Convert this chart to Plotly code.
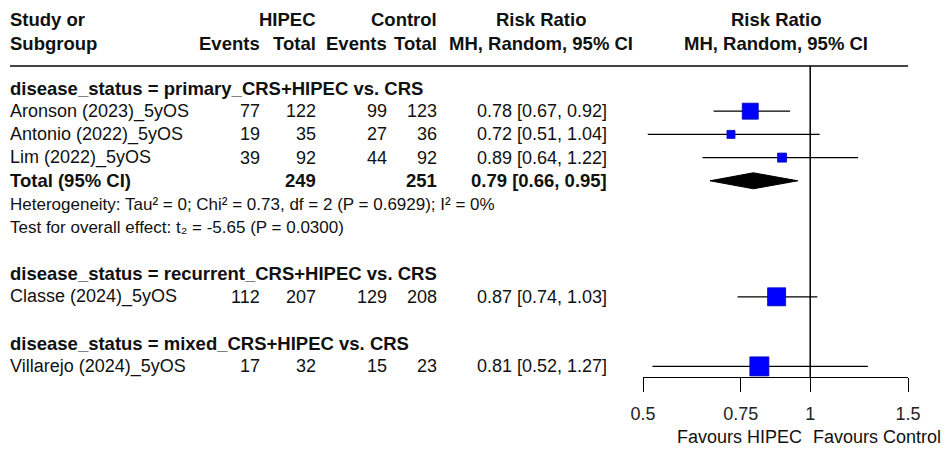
import math
import plotly.graph_objects as go

# ---------------- data ----------------
studies = ["Aronson (2023)_5yOS", "Antonio (2022)_5yOS", "Lim (2022)_5yOS",
           "Classe (2024)_5yOS", "Villarejo (2024)_5yOS"]
study_rows = [1, 2, 3, 9, 12]
hipec_events = [77, 19, 39, 112, 17]
hipec_total = [122, 35, 92, 207, 32]
ctrl_events = [99, 27, 44, 129, 15]
ctrl_total = [123, 36, 92, 208, 23]
rr = [0.78, 0.72, 0.89, 0.87, 0.81]
rr_lo = [0.67, 0.51, 0.64, 0.74, 0.52]
rr_hi = [0.92, 1.04, 1.22, 1.03, 1.27]

subgroup_titles = ["disease_status = primary_CRS+HIPEC vs. CRS",
                   "disease_status = recurrent_CRS+HIPEC vs. CRS",
                   "disease_status = mixed_CRS+HIPEC vs. CRS"]
subgroup_rows = [0, 8, 11]

pooled_row = 4
pooled_hipec_total = 249
pooled_ctrl_total = 251
pooled_rr, pooled_lo, pooled_hi = 0.79, 0.66, 0.95

het_row, test_row = 5, 6
het_text = "Heterogeneity: Tau\u00b2 = 0; Chi\u00b2 = 0.73, df = 2 (P = 0.6929); I\u00b2 = 0%"
test_text = "Test for overall effect: t\u2082 = -5.65 (P = 0.0300)"

tick_vals = [0.5, 0.75, 1, 1.5]
tick_text = ["0.5", "0.75", "1", "1.5"]
x_range = [0.5, 1.5]

# ---------------- style ----------------
W, H = 949, 450
FONT = "Liberation Sans, Arial, sans-serif"
FS, FS_BOLD, FS_SMALL = 18, 18.5, 17
TXT = "#111111"
SQUARE_PX = [16, 8, 9, 18, 19]
ROW0_PX, ROW_PX = 88, 23.2          # pixel centre of row 0 and row pitch
TOP_PX, AXIS_PX = 66, 377           # header rule and x-axis line


def row_of(px):
    return (px - ROW0_PX) / ROW_PX


def row_px(row):
    return ROW0_PX + ROW_PX * row


col_hev, col_htot, col_cev, col_ctot, col_rr = 260, 316, 387, 437, 607
col_rr_head, col_plot_head = 541, 776
study_x = 10

fig = go.Figure()

# confidence interval whiskers
for r, lo, hi in zip(study_rows, rr_lo, rr_hi):
    fig.add_trace(go.Scatter(x=[lo, hi], y=[r, r], mode="lines",
                             line=dict(color="black", width=1.2),
                             hoverinfo="skip", showlegend=False))

# study squares
fig.add_trace(go.Scatter(
    x=rr, y=study_rows, mode="markers", opacity=1,
    marker=dict(symbol="square", size=SQUARE_PX, color="#0000ff", opacity=1,
                line=dict(color="#0000b0", width=0.8)),
    hoverinfo="skip", showlegend=False))

# pooled diamond
hh = 0.345
fig.add_trace(go.Scatter(
    x=[pooled_lo, pooled_rr, pooled_hi, pooled_rr, pooled_lo],
    y=[pooled_row, pooled_row - hh, pooled_row, pooled_row + hh, pooled_row],
    mode="lines", fill="toself", fillcolor="black",
    line=dict(color="black", width=1), hoverinfo="skip", showlegend=False))

ann = []


def text(x_px, y_px, s, anchor="right", bold=False, size=None):
    if size is None:
        size = FS_BOLD if bold else FS
    if bold:
        s = "<b>" + s + "</b>"
    ann.append(dict(x=x_px / W, xref="paper", y=1 - y_px / H, yref="paper",
                    text=s, showarrow=False, xanchor=anchor, yanchor="middle",
                    borderpad=0, borderwidth=0,
                    font=dict(family=FONT, size=size, color=TXT)))


# column headers
h1, h2 = 20, 44
text(study_x, h1, "Study or", "left", True)
text(study_x, h2, "Subgroup", "left", True)
text(col_htot, h1, "HIPEC", bold=True)
text(col_hev, h2, "Events", bold=True)
text(col_htot, h2, "Total", bold=True)
text(col_ctot, h1, "Control", bold=True)
text(col_cev, h2, "Events", bold=True)
text(col_ctot, h2, "Total", bold=True)
text(col_rr_head, h1, "Risk Ratio", "center", True)
text(col_rr_head, h2, "MH, Random, 95% CI", "center", True)
text(col_plot_head, h1, "Risk Ratio", "center", True)
text(col_plot_head, h2, "MH, Random, 95% CI", "center", True)

# subgroup titles
for r, t in zip(subgroup_rows, subgroup_titles):
    text(study_x, row_px(r), t, "left", True)

# study rows
for i, r in enumerate(study_rows):
    y = row_px(r)
    text(study_x, y, studies[i], "left")
    text(col_hev, y, str(hipec_events[i]))
    text(col_htot, y, str(hipec_total[i]))
    text(col_cev, y, str(ctrl_events[i]))
    text(col_ctot, y, str(ctrl_total[i]))
    text(col_rr, y, f"{rr[i]:.2f} [{rr_lo[i]:.2f}, {rr_hi[i]:.2f}]")

# pooled row
y = row_px(pooled_row)
text(study_x, y, "Total (95% CI)", "left", True)
text(col_htot, y, str(pooled_hipec_total), bold=True)
text(col_ctot, y, str(pooled_ctrl_total), bold=True)
text(col_rr, y, f"{pooled_rr:.2f} [{pooled_lo:.2f}, {pooled_hi:.2f}]", bold=True)

text(study_x, row_px(het_row), het_text, "left", size=FS_SMALL)
text(study_x, row_px(test_row), test_text, "left", size=FS_SMALL)

# favours labels
text(802, 437, "Favours HIPEC", "right")
text(813, 437, "Favours Control", "left")

shapes = [
    dict(type="line", xref="paper", yref="paper", x0=10 / W, x1=908 / W,
         y0=1 - TOP_PX / H, y1=1 - TOP_PX / H, line=dict(color="#444", width=2)),
    dict(type="line", xref="x", yref="y domain", x0=1, x1=1, y0=0, y1=1,
         line=dict(color="black", width=1.5)),
]

fig.update_layout(
    width=W, height=H, margin=dict(l=0, r=0, t=0, b=0, pad=0, autoexpand=False),
    paper_bgcolor="white", plot_bgcolor="white",
    annotations=ann, shapes=shapes,
    xaxis=dict(type="log", range=[math.log10(x_range[0]), math.log10(x_range[1])],
               domain=[643 / W, 908 / W], showgrid=False, zeroline=False,
               automargin=False,
               showline=True, linecolor="black", linewidth=1,
               ticks="outside", ticklen=14, tickcolor="black", tickwidth=1,
               tickvals=tick_vals, ticktext=tick_text, ticklabelstandoff=6,
               tickfont=dict(family=FONT, size=FS, color="#222")),
    yaxis=dict(range=[row_of(AXIS_PX), row_of(TOP_PX)],
               domain=[(H - AXIS_PX) / H, (H - TOP_PX) / H], automargin=False,
               visible=False, showgrid=False, zeroline=False),
)

fig.write_html("out.html")
